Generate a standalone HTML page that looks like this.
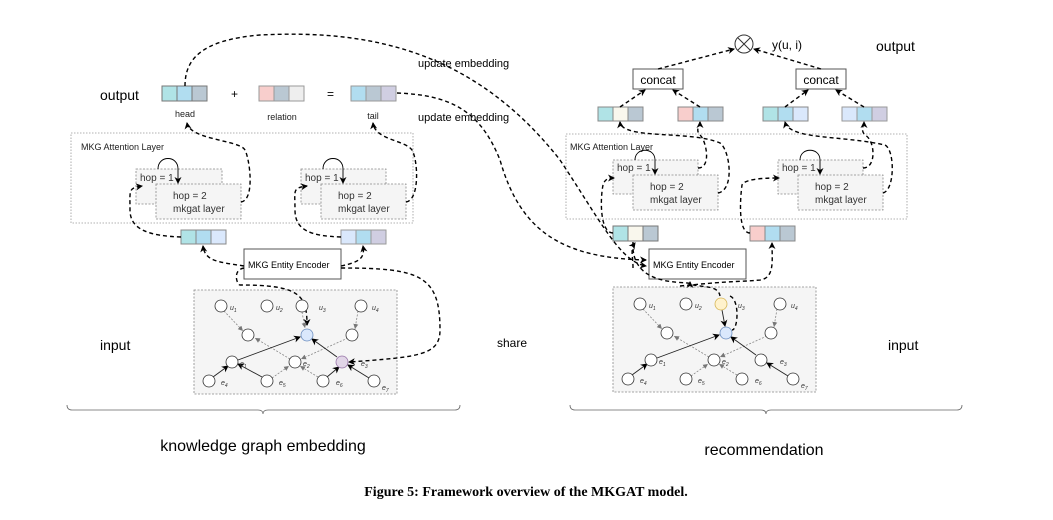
<!DOCTYPE html>
<html><head><meta charset="utf-8"><style>
body{margin:0;background:#fff}
svg text{font-family:"Liberation Sans",sans-serif}
</style></head><body>
<svg width="1053" height="515" viewBox="0 0 1053 515" xmlns="http://www.w3.org/2000/svg">
<defs>
<marker id="a" markerWidth="8" markerHeight="8" refX="6" refY="4" orient="auto" markerUnits="userSpaceOnUse"><path d="M0,0.5 L7,4 L0,7.5 L2,4 Z" fill="#000"/></marker>
<marker id="g" markerWidth="6" markerHeight="6" refX="5" refY="3" orient="auto" markerUnits="userSpaceOnUse"><path d="M0,0.5 L5,3 L0,5.5 Z" fill="#777"/></marker>
</defs>
<g fill="none" stroke="#999" stroke-dasharray="1.5,1.5" stroke-width="0.8">
<rect x="71" y="133" width="342" height="90"/>
<rect x="566" y="134" width="341" height="85"/>
</g>
<g fill="#f5f5f5" stroke="#888" stroke-dasharray="2,1.5" stroke-width="0.8">
<rect x="194" y="290" width="203" height="104"/>
<rect x="613" y="287" width="203" height="105"/>
<rect x="136" y="169" width="86" height="35"/><rect x="156" y="184" width="85" height="35"/>
<rect x="301" y="169" width="85" height="35"/><rect x="321" y="184" width="85" height="35"/>
<rect x="613" y="160" width="85" height="34"/><rect x="633" y="175" width="85" height="35"/>
<rect x="778" y="160" width="85" height="34"/><rect x="798" y="175" width="85" height="35"/>
</g>
<g font-size="10" fill="#333">
<text x="140" y="181">hop = 1</text><text x="173" y="199">hop = 2</text><text x="173" y="212">mkgat layer</text>
<text x="305" y="181">hop = 1</text><text x="338" y="199">hop = 2</text><text x="338" y="212">mkgat layer</text>
<text x="617" y="171">hop = 1</text><text x="650" y="190">hop = 2</text><text x="650" y="203">mkgat layer</text>
<text x="782" y="171">hop = 1</text><text x="815" y="190">hop = 2</text><text x="815" y="203">mkgat layer</text>
</g>
<g font-size="9" fill="#222"><text x="81" y="150">MKG Attention Layer</text><text x="570" y="150">MKG Attention Layer</text></g>
<g fill="none" stroke="#000" stroke-width="0.9">
<path d="M158,169 C158,155 178,155 178,169 L178,183" marker-end="url(#a)"/>
<path d="M323,169 C323,155 343,155 343,169 L343,183" marker-end="url(#a)"/>
<path d="M635,160 C635,147 655,147 655,160 L655,174" marker-end="url(#a)"/>
<path d="M800,160 C800,147 820,147 820,160 L820,174" marker-end="url(#a)"/>
</g>
<g stroke-width="1">
<g stroke="#777"><rect x="162" y="86" width="15" height="15" fill="#b0e3e6"/><rect x="177" y="86" width="15" height="15" fill="#b1ddf0"/><rect x="192" y="86" width="15" height="15" fill="#bac8d3"/></g>
<g stroke="#999"><rect x="259" y="86" width="15" height="15" fill="#f8cecc"/><rect x="274" y="86" width="15" height="15" fill="#bac8d3"/><rect x="289" y="86" width="15" height="15" fill="#eeeeee"/></g>
<g stroke="#999"><rect x="351" y="86" width="15" height="15" fill="#b1ddf0"/><rect x="366" y="86" width="15" height="15" fill="#bac8d3"/><rect x="381" y="86" width="15" height="15" fill="#d0cee2"/></g>
<g stroke="#888"><rect x="181" y="230" width="15" height="14" fill="#b0e3e6"/><rect x="196" y="230" width="15" height="14" fill="#b1ddf0"/><rect x="211" y="230" width="15" height="14" fill="#dae8fc"/></g>
<g stroke="#999"><rect x="341" y="230" width="15" height="14" fill="#dae8fc"/><rect x="356" y="230" width="15" height="14" fill="#b1ddf0"/><rect x="371" y="230" width="15" height="14" fill="#d0cee2"/></g>
<g stroke="#888"><rect x="598" y="107" width="15" height="14" fill="#b0e3e6"/><rect x="613" y="107" width="15" height="14" fill="#f9f7ed"/><rect x="628" y="107" width="15" height="14" fill="#bac8d3"/></g>
<g stroke="#888"><rect x="678" y="107" width="15" height="14" fill="#f8cecc"/><rect x="693" y="107" width="15" height="14" fill="#b1ddf0"/><rect x="708" y="107" width="15" height="14" fill="#bac8d3"/></g>
<g stroke="#888"><rect x="763" y="107" width="15" height="14" fill="#b0e3e6"/><rect x="778" y="107" width="15" height="14" fill="#b1ddf0"/><rect x="793" y="107" width="15" height="14" fill="#dae8fc"/></g>
<g stroke="#999"><rect x="842" y="107" width="15" height="14" fill="#dae8fc"/><rect x="857" y="107" width="15" height="14" fill="#b1ddf0"/><rect x="872" y="107" width="15" height="14" fill="#d0cee2"/></g>
<g stroke="#777"><rect x="613" y="226" width="15" height="15" fill="#b0e3e6"/><rect x="628" y="226" width="15" height="15" fill="#f9f7ed"/><rect x="643" y="226" width="15" height="15" fill="#bac8d3"/></g>
<g stroke="#888"><rect x="750" y="226" width="15" height="15" fill="#f8cecc"/><rect x="765" y="226" width="15" height="15" fill="#b1ddf0"/><rect x="780" y="226" width="15" height="15" fill="#bac8d3"/></g>
</g>
<g fill="#fff" stroke="#555"><rect x="244" y="249" width="97" height="30"/><rect x="649" y="249" width="97" height="30"/>
<rect x="633" y="69" width="50" height="20"/><rect x="796" y="69" width="50" height="20"/></g>
<g font-size="9" fill="#000"><text x="248" y="268">MKG Entity Encoder</text><text x="653" y="268">MKG Entity Encoder</text></g>
<g font-size="12" fill="#000" text-anchor="middle"><text x="658" y="84">concat</text><text x="821" y="84">concat</text></g>
<circle cx="744" cy="44" r="9" fill="#fff" stroke="#333"/>
<path d="M738,38 L750,50 M750,38 L738,50" stroke="#333"/>
<g font-size="14" fill="#000"><text x="100" y="100">output</text><text x="100" y="350">input</text><text x="876" y="51">output</text><text x="888" y="350">input</text></g>
<g font-size="12" fill="#000"><text x="231" y="98">+</text><text x="327" y="98">=</text><text x="772" y="49">y(u, i)</text><text x="497" y="347">share</text></g>
<g font-size="9" fill="#222" text-anchor="middle"><text x="185" y="117">head</text><text x="282" y="120">relation</text><text x="373" y="119">tail</text></g>
<g font-size="11" fill="#000"><text x="418" y="67">update embedding</text><text x="418" y="121">update embedding</text></g>
<g fill="none" stroke="#000" stroke-width="1.4" stroke-dasharray="4,3">
<path d="M185,86 C185,60 200,40 260,35 C360,30 470,45 560,160 C600,220 620,262 646,266" marker-end="url(#a)"/>
<path d="M397,93 C450,95 480,110 500,160 C520,230 560,258 646,260" marker-end="url(#a)"/>
<path d="M241,202 C255,200 250,160 245,150 C240,140 190,140 187,123" marker-end="url(#a)"/>
<path d="M406,202 C420,200 418,160 412,150 C405,140 375,140 373,123" marker-end="url(#a)"/>
<path d="M181,237 C150,236 130,230 130,210 C130,190 128,188 142,186" marker-end="url(#a)"/>
<path d="M341,237 C310,236 295,230 295,210 C295,190 292,188 307,186" marker-end="url(#a)"/>
<path d="M244,266 C220,262 205,262 203,246" marker-end="url(#a)"/>
<path d="M341,266 C360,262 365,258 363,246" marker-end="url(#a)"/>
<path d="M244,268 C232,270 237,285 240,285 C300,285 307,295 307,325" marker-end="url(#a)"/>
<path d="M341,268 C420,268 440,275 440,330 C440,355 420,357 349,362" marker-end="url(#a)"/>
<path d="M633,242 C630,290 690,280 690,284 C700,288 718,284 720,296 M730,296 C740,300 738,330 732,330"/>
<path d="M690,284 L690,282" marker-end="url(#a)"/>
<path d="M633,268 C633,255 630,250 635,243" marker-end="url(#a)"/>
<path d="M680,286 C740,280 742,282 760,280 C775,278 772,260 772,243" marker-end="url(#a)"/>
<path d="M613,233 C600,233 600,200 603,185 C605,178 610,178 614,178" marker-end="url(#a)"/>
<path d="M750,233 C738,233 740,200 742,185 C745,178 770,178 779,178" marker-end="url(#a)"/>
<path d="M698,168 C712,168 706,140 700,135 C695,130 700,125 700,122" marker-end="url(#a)"/>
<path d="M718,193 C735,190 730,150 720,143 C690,130 622,140 620,122" marker-end="url(#a)"/>
<path d="M863,168 C877,168 875,140 865,135 C860,130 864,125 864,122" marker-end="url(#a)"/>
<path d="M883,193 C895,190 895,150 885,145 C840,135 790,140 785,122" marker-end="url(#a)"/>
<path d="M620,107 L645,90" marker-end="url(#a)"/>
<path d="M700,107 L673,90" marker-end="url(#a)"/>
<path d="M785,107 L808,90" marker-end="url(#a)"/>
<path d="M864,107 L836,90" marker-end="url(#a)"/>
<path d="M658,69 L734,49" marker-end="url(#a)"/>
<path d="M821,69 L754,49" marker-end="url(#a)"/>
</g>
<g>
<g stroke="#888" stroke-dasharray="2,1.5" stroke-width="0.8" fill="none">
<line x1="224" y1="311" x2="243" y2="331" marker-end="url(#g)"/>
<line x1="358" y1="311" x2="355" y2="329" marker-end="url(#g)"/>
<line x1="302" y1="312" x2="305" y2="328" marker-end="url(#g)"/>
<line x1="290" y1="359" x2="255" y2="338" marker-end="url(#g)"/>
<line x1="348" y1="338" x2="301" y2="359" marker-end="url(#g)"/>
<line x1="272" y1="378" x2="289" y2="366" marker-end="url(#g)"/>
<line x1="318" y1="377" x2="300" y2="366" marker-end="url(#g)"/>
</g>
<g stroke="#222" stroke-width="0.9" fill="none">
<line x1="238" y1="360" x2="300" y2="337" marker-end="url(#a)"/>
<line x1="337" y1="357" x2="312" y2="339" marker-end="url(#a)"/>
<line x1="213" y1="377" x2="228" y2="366" marker-end="url(#a)"/>
<line x1="262" y1="377" x2="238" y2="364" marker-end="url(#a)"/>
<line x1="327" y1="377" x2="339" y2="367" marker-end="url(#a)"/>
<line x1="369" y1="378" x2="348" y2="365" marker-end="url(#a)"/>
</g>
<g stroke="#333" stroke-width="0.8" fill="#fff">
<circle cx="221" cy="306" r="6"/><circle cx="267" cy="306" r="6"/><circle cx="302" cy="306" r="6"/><circle cx="361" cy="306" r="6"/>
<circle cx="248" cy="335" r="6"/><circle cx="307" cy="335" r="6" fill="#dae8fc" stroke="#6c8ebf"/><circle cx="352" cy="335" r="6"/>
<circle cx="232" cy="362" r="6"/><circle cx="295" cy="362" r="6"/><circle cx="342" cy="362" r="6" fill="#e1d5e7" stroke="#9673a6"/>
<circle cx="209" cy="381" r="6"/><circle cx="267" cy="381" r="6"/><circle cx="323" cy="381" r="6"/><circle cx="374" cy="381" r="6"/>
</g>
<g font-size="7" font-style="italic" fill="#333">
<text x="230" y="310">u<tspan font-size="5" dy="2">1</tspan></text><text x="276" y="310">u<tspan font-size="5" dy="2">2</tspan></text><text x="319" y="310">u<tspan font-size="5" dy="2">3</tspan></text><text x="372" y="310">u<tspan font-size="5" dy="2">4</tspan></text>
<text x="240" y="366">e<tspan font-size="5" dy="2">1</tspan></text><text x="303" y="366">e<tspan font-size="5" dy="2">2</tspan></text><text x="361" y="366">e<tspan font-size="5" dy="2">3</tspan></text>
<text x="221" y="385">e<tspan font-size="5" dy="2">4</tspan></text><text x="279" y="385">e<tspan font-size="5" dy="2">5</tspan></text><text x="336" y="385">e<tspan font-size="5" dy="2">6</tspan></text><text x="382" y="390">e<tspan font-size="5" dy="2">7</tspan></text>
</g>
</g>
<g transform="translate(419,-2)">
<g stroke="#888" stroke-dasharray="2,1.5" stroke-width="0.8" fill="none">
<line x1="224" y1="311" x2="243" y2="331" marker-end="url(#g)"/>
<line x1="358" y1="311" x2="355" y2="329" marker-end="url(#g)"/>
<line x1="290" y1="359" x2="255" y2="338" marker-end="url(#g)"/>
<line x1="348" y1="338" x2="301" y2="359" marker-end="url(#g)"/>
<line x1="272" y1="378" x2="289" y2="366" marker-end="url(#g)"/>
<line x1="318" y1="377" x2="300" y2="366" marker-end="url(#g)"/>
</g>
<g stroke="#222" stroke-width="0.9" fill="none">
<line x1="303" y1="312" x2="306" y2="328" marker-end="url(#a)"/>
<line x1="238" y1="360" x2="300" y2="337" marker-end="url(#a)"/>
<line x1="337" y1="357" x2="312" y2="339" marker-end="url(#a)"/>
<line x1="213" y1="377" x2="228" y2="366" marker-end="url(#a)"/>
<line x1="369" y1="378" x2="348" y2="365" marker-end="url(#a)"/>
</g>
<g stroke="#333" stroke-width="0.8" fill="#fff">
<circle cx="221" cy="306" r="6"/><circle cx="267" cy="306" r="6"/><circle cx="302" cy="306" r="6" fill="#fff2cc" stroke="#d6b656"/><circle cx="361" cy="306" r="6"/>
<circle cx="248" cy="335" r="6"/><circle cx="307" cy="335" r="6" fill="#dae8fc" stroke="#6c8ebf"/><circle cx="352" cy="335" r="6"/>
<circle cx="232" cy="362" r="6"/><circle cx="295" cy="362" r="6"/><circle cx="342" cy="362" r="6"/>
<circle cx="209" cy="381" r="6"/><circle cx="267" cy="381" r="6"/><circle cx="323" cy="381" r="6"/><circle cx="374" cy="381" r="6"/>
</g>
<g font-size="7" font-style="italic" fill="#333">
<text x="230" y="310">u<tspan font-size="5" dy="2">1</tspan></text><text x="276" y="310">u<tspan font-size="5" dy="2">2</tspan></text><text x="319" y="310">u<tspan font-size="5" dy="2">3</tspan></text><text x="372" y="310">u<tspan font-size="5" dy="2">4</tspan></text>
<text x="240" y="366">e<tspan font-size="5" dy="2">1</tspan></text><text x="303" y="366">e<tspan font-size="5" dy="2">2</tspan></text><text x="361" y="366">e<tspan font-size="5" dy="2">3</tspan></text>
<text x="221" y="385">e<tspan font-size="5" dy="2">4</tspan></text><text x="279" y="385">e<tspan font-size="5" dy="2">5</tspan></text><text x="336" y="385">e<tspan font-size="5" dy="2">6</tspan></text><text x="382" y="390">e<tspan font-size="5" dy="2">7</tspan></text>
</g>
</g>
<g fill="none" stroke="#666" stroke-width="0.8">
<path d="M67,405 Q67,410 72,410 L258,410 Q263,410 263,414 Q263,410 268,410 L455,410 Q460,410 460,405"/>
<path d="M570,405 Q570,410 575,410 L761,410 Q766,410 766,414 Q766,410 771,410 L957,410 Q962,410 962,405"/>
</g>
<g font-size="16" fill="#000" text-anchor="middle"><text x="263" y="451">knowledge graph embedding</text><text x="764" y="455">recommendation</text></g>
<text x="526" y="496" style="font-family:'Liberation Serif',serif;font-weight:bold;font-size:14px" text-anchor="middle">Figure 5: Framework overview of the MKGAT model.</text>
</svg>
</body></html>
